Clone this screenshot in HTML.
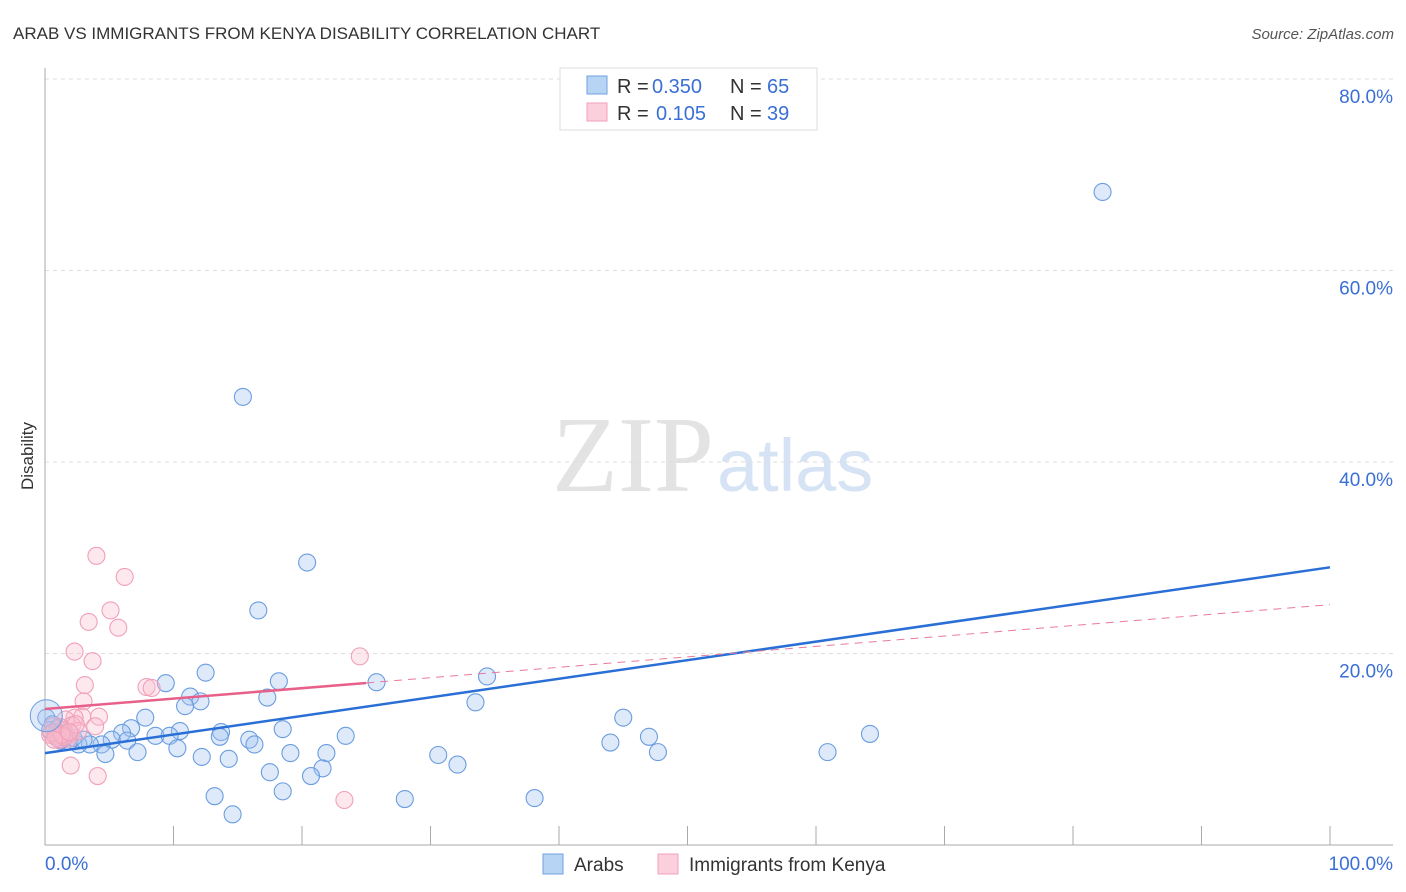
<!DOCTYPE html>
<html><head><meta charset="utf-8"><style>
body{margin:0;background:#fff;font-family:"Liberation Sans",sans-serif;}
svg{display:block}
</style></head><body>
<svg width="1406" height="892">
<text x="13" y="39" font-size="17" fill="#333">ARAB VS IMMIGRANTS FROM KENYA DISABILITY CORRELATION CHART</text>
<text x="1394" y="39" font-size="15" fill="#555" font-style="italic" text-anchor="end">Source: ZipAtlas.com</text>
<text x="33" y="456" font-size="17" fill="#333" transform="rotate(-90 33 456)" text-anchor="middle">Disability</text>
<text x="714" y="491" font-size="108" fill="#e3e3e3" text-anchor="end" font-family="Liberation Serif">ZIP</text>
<text x="717" y="491" font-size="74" fill="#d6e3f5">atlas</text>
<g id="grid"></g><g id="axes"></g><g id="pts"></g><g id="lines"></g>
<g>
<rect x="560" y="68" width="257" height="62" fill="#fff" stroke="#ddd"/>
<rect x="587" y="76" width="20" height="18" fill="#b8d4f5" stroke="#6fa0e0"/>
<rect x="587" y="103" width="20" height="18" fill="#fbd0dc" stroke="#f0a0b8"/>
<text x="617" y="93" font-size="20" fill="#333">R =</text>
<text x="652" y="93" font-size="20" fill="#3a6fd6">0.350</text>
<text x="730" y="93" font-size="20" fill="#333">N =</text>
<text x="767" y="93" font-size="20" fill="#3a6fd6">65</text>
<text x="617" y="120" font-size="20" fill="#333">R =</text>
<text x="656" y="120" font-size="20" fill="#3a6fd6">0.105</text>
<text x="730" y="120" font-size="20" fill="#333">N =</text>
<text x="767" y="120" font-size="20" fill="#3a6fd6">39</text>
</g>
<g>
<rect x="543" y="854" width="20" height="20" fill="#b8d4f5" stroke="#6fa0e0"/>
<text x="574" y="871" font-size="19" fill="#333">Arabs</text>
<rect x="658" y="854" width="20" height="20" fill="#fbd0dc" stroke="#f0a0b8"/>
<text x="689" y="871" font-size="19" fill="#333">Immigrants from Kenya</text>
</g>
</svg>
<script>
const yTicks=[20,40,60,80];
const xTickLabels=["0.0%","100.0%"];
const arabX=[82.3,15.4,20.4,16.6,34.4,25.8,12.5,18.2,9.4,11.3,12.1,10.9,17.3,33.5,7.8,45.0,18.5,13.7,64.2,47.0,23.4,6.7,6.0,10.5,8.6,9.7,13.6,15.9,16.3,44.0,5.2,6.4,4.4,3.5,2.6,7.2,10.3,4.7,19.1,21.9,30.6,47.7,60.9,12.2,14.3,32.1,21.6,17.5,20.7,13.2,18.5,28.0,38.1,14.6,0.1,0.4,0.8,1.3,1.9,1.0,1.6,2.2,3.0,0.6,1.2];
const arabY=[68.2,46.8,29.5,24.5,17.6,17.0,18.0,17.1,16.9,15.5,15.0,14.5,15.4,14.9,13.3,13.3,12.1,11.8,11.6,11.3,11.4,12.2,11.7,11.9,11.4,11.4,11.3,11.0,10.5,10.7,11.0,10.9,10.5,10.5,10.5,9.7,10.1,9.5,9.6,9.6,9.4,9.7,9.7,9.2,9.0,8.4,8.0,7.6,7.2,5.1,5.6,4.8,4.9,3.2,13.3,12.0,11.5,11.0,10.8,12.2,11.7,11.2,11.0,12.6,10.9];
const kenyaX=[4.0,6.2,5.1,3.4,5.7,2.3,3.7,24.5,3.1,7.9,8.3,3.0,2.9,4.2,2.3,1.6,2.1,1.2,0.8,0.4,1.0,1.6,2.0,1.4,0.6,3.9,2.0,4.1,23.3,1.8,2.6,0.9,1.1,1.5,0.5,2.4,1.3,0.7,1.9];
const kenyaY=[30.2,28.0,24.5,23.3,22.7,20.2,19.2,19.7,16.7,16.5,16.4,15.0,13.4,13.4,13.3,13.1,12.5,12.3,11.8,11.5,11.4,11.4,11.6,12.0,12.4,12.4,8.3,7.2,4.7,11.1,11.9,11.2,11.0,11.3,11.7,12.6,11.5,11.0,11.8];
const arabLine=[9.6,29.0];
const kenyaLine=[14.2,25.1];
const NS="http://www.w3.org/2000/svg";
const sx=v=>45+12.85*v, sy=v=>845-9.575*v;
function mk(p,t,a){const e=document.createElementNS(NS,t);for(const k in a)e.setAttribute(k,a[k]);p.appendChild(e);return e;}
const grid=document.getElementById('grid'),axes=document.getElementById('axes'),pts=document.getElementById('pts'),lines=document.getElementById('lines');
yTicks.forEach(t=>{
 const l=mk(grid,'line',{x1:45,x2:1393,y1:sy(t),y2:sy(t),stroke:'#ddd','stroke-dasharray':'4,4'});
 
 
 const tx=mk(grid,'text',{x:1393,y:sy(t)+24,'font-size':19,fill:'#3a6fd6','text-anchor':'end'});
 tx.textContent=t.toFixed(1)+'%';
 
 
});
const ax=mk(axes,'line',{x1:45,x2:45,y1:68,y2:845,stroke:'#aaa'});


const bx=mk(axes,'line',{x1:45,x2:1393,y1:845,y2:845,stroke:'#aaa'});


for(let i=0;i<=10;i++){const t=mk(axes,'line',{x1:sx(i*10),x2:sx(i*10),y1:826,y2:845,stroke:'#aaa'});
 
 }
const xl0=mk(axes,'text',{x:45,y:870,'font-size':19,fill:'#3a6fd6'});xl0.textContent=xTickLabels[0];


const xl1=mk(axes,'text',{x:1393,y:870,'font-size':19,fill:'#3a6fd6','text-anchor':'end'});xl1.textContent=xTickLabels[1];


arabX.forEach((x,i)=>{const c=mk(pts,'circle',{cx:sx(x),cy:sy(arabY[i]),r:8.5,fill:'rgba(160,196,240,0.35)',stroke:'#6a9de0','stroke-width':1.1});
 
 });
kenyaX.forEach((x,i)=>{const c=mk(pts,'circle',{cx:sx(x),cy:sy(kenyaY[i]),r:8.5,fill:'rgba(248,190,206,0.35)',stroke:'#f0a0ba','stroke-width':1.1});
 
 });
const big=mk(pts,'circle',{cx:sx(0.1),cy:sy(13.5),r:16,fill:'rgba(160,196,240,0.35)',stroke:'#6a9de0'});


const bl=mk(lines,'line',{x1:sx(0),y1:sy(arabLine[0]),x2:sx(100),y2:sy(arabLine[1]),stroke:'#2a6fd6','stroke-width':2.5});


const kAt=x=>kenyaLine[0]+(kenyaLine[1]-kenyaLine[0])*x/100;
const kd=mk(lines,'line',{x1:sx(25),y1:sy(kAt(25)),x2:sx(100),y2:sy(kenyaLine[1]),stroke:'#e87a9c','stroke-width':1,'stroke-dasharray':'8,6'});


const ks=mk(lines,'line',{x1:sx(0),y1:sy(kenyaLine[0]),x2:sx(25),y2:sy(kAt(25)),stroke:'#e8608a','stroke-width':2.5});


</script>
</body></html>
